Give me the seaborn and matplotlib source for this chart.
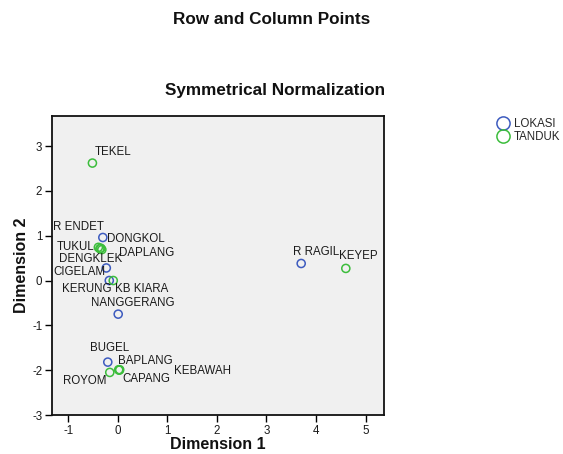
import pandas as pd
import seaborn as sns
import matplotlib.pyplot as plt
from matplotlib.lines import Line2D

# row points (LOKASI)
lokasi_names = ['R ENDET', 'CIGELAM', 'KERUNG', 'NANGGERANG', 'BUGEL', 'R RAGIL']
lokasi_dim1 = [-0.30, -0.23, -0.17, 0.01, -0.20, 3.70]
lokasi_dim2 = [0.96, 0.28, 0.00, -0.75, -1.82, 0.38]

# column points (TANDUK)
tanduk_names = ['TEKEL', 'DONGKOL', 'TUKUL', 'DAPLANG', 'DENGKLEK', 'KB KIARA',
                'BAPLANG', 'ROYOM', 'CAPANG', 'KEBAWAH', 'KEYEP']
tanduk_dim1 = [-0.51, -0.34, -0.39, -0.32, -0.36, -0.09, 0.04, -0.16, 0.03, 0.02, 4.60]
tanduk_dim2 = [2.62, 0.72, 0.74, 0.69, 0.71, 0.00, -1.99, -2.05, -2.00, -1.99, 0.27]

# label offsets in pixels (left edge, vertical centre) relative to the point
lokasi_off = [(-50, 10), (-53, -4), (-47, -8), (-27, 11), (-18, 14), (-8, 11)]
tanduk_off = [(2, 11), (6, 9), (-42, 0), (17, -3), (-41, -10), (2, -8),
              (-2, 9), (-47, -9), (3, -9), (55, -1), (-7, 12)]

blue = '#3d5bbf'
green = '#3cbd3c'

df_lok = pd.DataFrame({'dim1': lokasi_dim1, 'dim2': lokasi_dim2, 'name': lokasi_names})
df_tan = pd.DataFrame({'dim1': tanduk_dim1, 'dim2': tanduk_dim2, 'name': tanduk_names})

sns.set_style('white')
plt.rcParams['font.family'] = ['Liberation Sans', 'DejaVu Sans']
plt.rcParams['axes.unicode_minus'] = False

fig = plt.figure(figsize=(5.63, 4.54), dpi=100)
ax = fig.add_axes([52 / 563, 39 / 454, 332 / 563, 299 / 454])
ax.set_facecolor('#f0f0f0')

sns.scatterplot(data=df_lok, x='dim1', y='dim2', ax=ax, s=34, marker='o',
                facecolor='none', edgecolor=blue, linewidth=1.1, legend=False)
sns.scatterplot(data=df_tan, x='dim1', y='dim2', ax=ax, s=34, marker='o',
                facecolor='none', edgecolor=green, linewidth=1.1, legend=False)

for df, offs in [(df_lok, lokasi_off), (df_tan, tanduk_off)]:
    for (_, r), (dx, dy) in zip(df.iterrows(), offs):
        ax.annotate(r['name'], (r['dim1'], r['dim2']), xytext=(dx, dy),
                    textcoords='offset pixels', ha='left', va='center',
                    fontsize=8.3, color='#1a1a1a')

ax.set_xlim(-1.325, 5.37)
ax.set_ylim(-3, 3.67)
ax.set_xticks(range(-1, 6))
ax.set_yticks(range(-3, 4))
ax.tick_params(direction='out', length=5, width=1, labelsize=8.3, pad=2,
               left=True, bottom=True, color='black', labelcolor='#1a1a1a')
for sp in ax.spines.values():
    sp.set_color('#111111')
    sp.set_linewidth(1.3)

ax.set_xlabel('Dimension 1', fontsize=11.5, fontweight='bold', color='#111111')
ax.set_ylabel('Dimension 2', fontsize=11.5, fontweight='bold', color='#111111')
ax.xaxis.set_label_coords(0.5, -0.075)
ax.yaxis.set_label_coords(-0.068, 0.5)

fig.text(272 / 563, 1 - 20 / 454, 'Row and Column Points', ha='center', va='center',
         fontsize=12.3, fontweight='bold', color='#111111')
fig.text(275 / 563, 1 - 90 / 454, 'Symmetrical Normalization', ha='center', va='center',
         fontsize=12.3, fontweight='bold', color='#111111')

handles = [Line2D([], [], marker='o', ls='none', mfc='none', mec=blue, ms=9.5, mew=1.1),
           Line2D([], [], marker='o', ls='none', mfc='none', mec=green, ms=9.5, mew=1.1)]
fig.legend(handles, ['LOKASI', 'TANDUK'], loc='upper left',
           bbox_to_anchor=(496 / 563, 1 - 118 / 454), frameon=False,
           fontsize=8.3, handletextpad=0.36, labelspacing=0.08, borderpad=0,
           handlelength=1.2, borderaxespad=0)

fig.savefig('out.png', dpi=100)
